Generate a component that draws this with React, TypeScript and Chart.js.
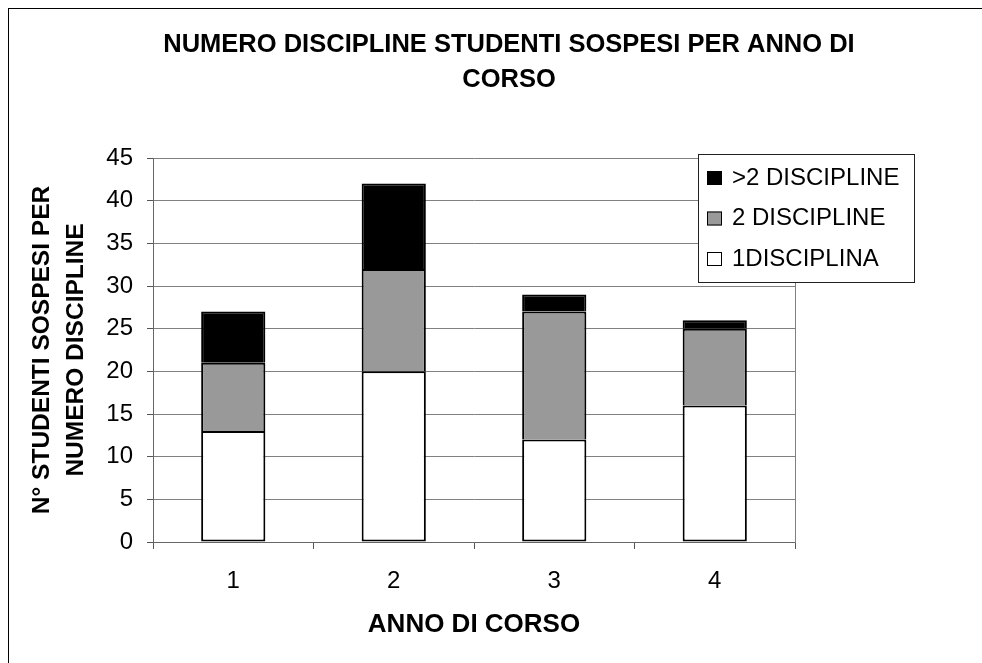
import React, { useEffect, useRef } from "react";
import { Chart, registerables } from "chart.js";

Chart.register(...registerables);

const categories = ["1", "2", "3", "4"];
const oneDiscipline = [13, 20, 12, 16];
const twoDisciplines = [8, 12, 15, 9];
const moreDisciplines = [6, 10, 2, 1];
const seriesLabels = ["1DISCIPLINA", "2 DISCIPLINE", ">2 DISCIPLINE"];
const seriesColors = ["#ffffff", "#999999", "#000000"];
const yMin = 0;
const yMax = 45;
const yStep = 5;
const chartTitle = ["NUMERO DISCIPLINE STUDENTI SOSPESI PER ANNO DI", "CORSO"];
const yTitle = ["N° STUDENTI SOSPESI PER", "NUMERO DISCIPLINE"];
const xTitle = "ANNO DI CORSO";

const FONT = '"Liberation Sans", Arial, Helvetica, sans-serif';

const boxLegend = {
  id: "boxLegend",
  afterDraw(chart: any) {
    const { ctx, chartArea } = chart;
    const left = chartArea.right - 97;
    const top = chartArea.top - 4;
    const w = 216;
    const h = 128;
    ctx.save();
    ctx.fillStyle = "#ffffff";
    ctx.fillRect(left, top, w, h);
    ctx.strokeStyle = "#222222";
    ctx.lineWidth = 1;
    ctx.strokeRect(left + 0.5, top + 0.5, w, h);
    const ds = chart.data.datasets.slice().reverse();
    ctx.font = "24px " + FONT;
    ctx.textBaseline = "middle";
    ctx.textAlign = "left";
    ds.forEach((d: any, i: number) => {
      const cy = top + 24 + i * 40.5;
      ctx.fillStyle = d.backgroundColor;
      ctx.fillRect(left + 9, cy - 7, 15, 14);
      ctx.strokeStyle = "#000000";
      ctx.lineWidth = 1;
      ctx.strokeRect(left + 9.5, cy - 6.5, 14, 13);
      ctx.fillStyle = "#000000";
      ctx.fillText(d.label, left + 34, cy);
    });
    ctx.restore();
  },
};

export default function App() {
  const ref = useRef<HTMLCanvasElement | null>(null);

  useEffect(() => {
    if (!ref.current) return;
    const seriesData = [oneDiscipline, twoDisciplines, moreDisciplines];
    const chart = new Chart(ref.current, {
      type: "bar",
      data: {
        labels: categories,
        datasets: seriesLabels.map((label, i) => ({
          label,
          data: seriesData[i],
          backgroundColor: seriesColors[i],
          borderColor: "#000000",
          borderWidth: 2,
          borderSkipped: i === 0 ? false : "start",
          barPercentage: 0.4,
          categoryPercentage: 1,
        })),
      },
      options: {
        responsive: false,
        animation: false,
        layout: { padding: 0 },
        plugins: {
          legend: { display: false },
          tooltip: { enabled: false },
          title: {
            display: true,
            text: chartTitle,
            color: "#000000",
            font: { family: FONT, size: 25.5, weight: "bold", lineHeight: "35px" },
            padding: { top: 18.5, bottom: 60.5 },
          },
        },
        scales: {
          x: {
            stacked: true,
            grid: {
              display: true,
              offset: true,
              drawOnChartArea: false,
              drawTicks: true,
              tickLength: 7,
              color: "#555555",
            },
            border: { display: true, color: "#666666", width: 1 },
            ticks: {
              color: "#000000",
              padding: 17.6,
              font: { family: FONT, size: 24 },
            },
            title: {
              display: true,
              text: xTitle,
              color: "#000000",
              font: { family: FONT, size: 26, weight: "bold" },
              padding: { top: 0, bottom: 28.4 },
            },
            afterFit: (s: any) => {
              s.height = 127;
            },
          },
          y: {
            stacked: true,
            min: yMin,
            max: yMax,
            ticks: {
              stepSize: yStep,
              color: "#000000",
              padding: 14,
              font: { family: FONT, size: 24 },
            },
            grid: {
              color: "#808080",
              lineWidth: 1,
              tickLength: 6,
              tickColor: "#555555",
            },
            border: { display: true, color: "#666666", width: 1 },
            title: {
              display: true,
              text: yTitle,
              color: "#000000",
              font: { family: FONT, size: 24.5, weight: "bold", lineHeight: "34px" },
              padding: { top: 16, bottom: 0 },
            },
            afterFit: (s: any) => {
              s.width = 144;
            },
          },
          yR: {
            position: "right",
            display: true,
            grid: { display: false },
            ticks: { display: false },
            border: { display: true, color: "#808080", width: 1 },
            afterFit: (s: any) => {
              s.width = 214;
            },
          },
        },
      },
      plugins: [boxLegend],
    } as any);
    return () => chart.destroy();
  }, []);

  return (
    <div
      style={{
        position: "fixed",
        left: 8,
        top: 8,
        width: 974,
        height: 655,
        overflow: "hidden",
      }}
    >
      <div style={{ border: "1px solid #000", width: 1000, height: 660 }}>
        <canvas ref={ref} width={1000} height={660} style={{ display: "block" }} />
      </div>
    </div>
  );
}
